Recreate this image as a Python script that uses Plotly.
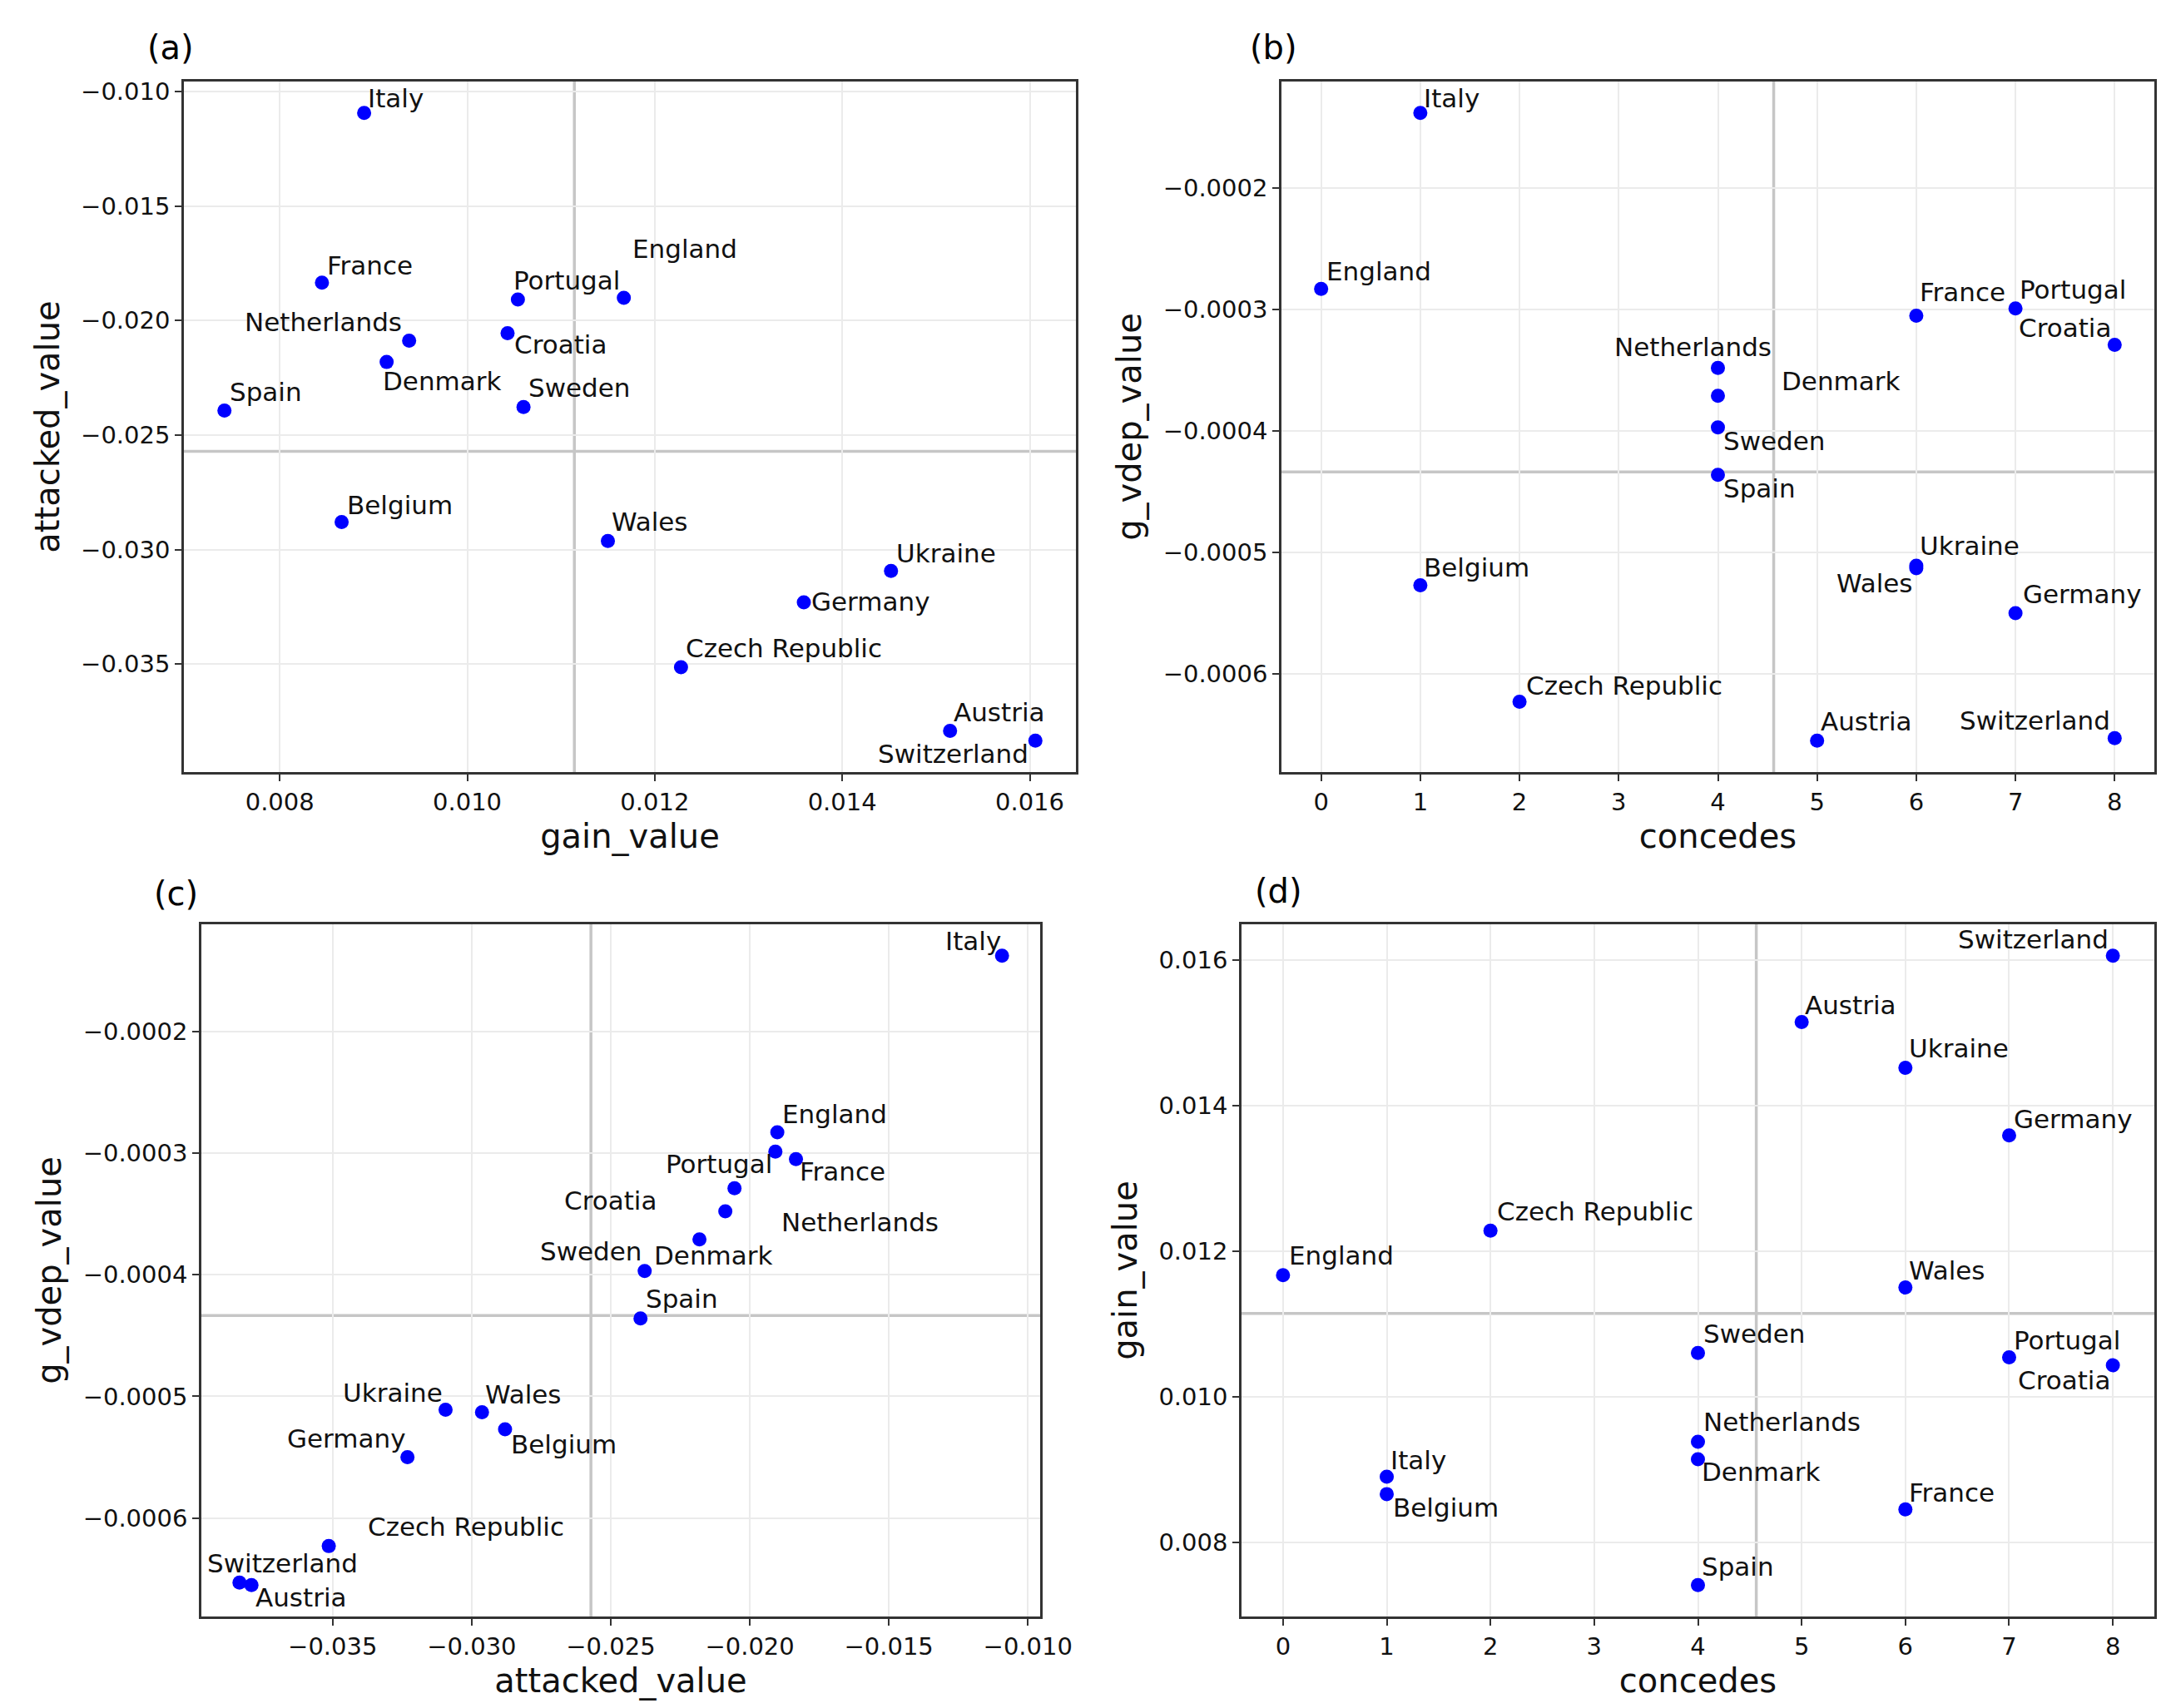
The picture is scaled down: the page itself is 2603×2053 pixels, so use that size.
import numpy as np
import plotly.graph_objects as go

# ---------------- data ----------------
teams = ["Italy", "France", "Netherlands", "Denmark", "Spain", "Portugal", "England",
         "Croatia", "Sweden", "Belgium", "Wales", "Ukraine", "Germany",
         "Czech Republic", "Austria", "Switzerland"]
gain_value = [0.00890, 0.00845, 0.00938, 0.00914, 0.00741, 0.01054, 0.01167,
              0.01043, 0.01060, 0.00866, 0.01150, 0.01452, 0.01359,
              0.01228, 0.01515, 0.01606]
attacked_value = [-0.01093, -0.01834, -0.02088, -0.02181, -0.02393, -0.01908, -0.01901,
                  -0.02055, -0.02378, -0.02880, -0.02963, -0.03094, -0.03231,
                  -0.03514, -0.03792, -0.03835]
g_vdep_value = [-0.000138, -0.000305, -0.000348, -0.000371, -0.000436, -0.000299, -0.000283,
                -0.000329, -0.000397, -0.000527, -0.000513, -0.000511, -0.000550,
                -0.000623, -0.000655, -0.000653]
concedes = [1, 6, 4, 4, 4, 7, 0, 8, 4, 1, 6, 6, 7, 2, 5, 8]
panel_tags = ["(a)", "(b)", "(c)", "(d)"]

# ---------------- label offsets (px, dx right, dy down) ----------------
off_a = {"Italy": (2, -18), "France": (4, -21), "Netherlands": (-200, -23), "Denmark": (-7, 23),
         "Spain": (4, -22), "Portugal": (-7, -23), "England": (8, -59), "Croatia": (6, 14),
         "Sweden": (4, -23), "Belgium": (4, -20), "Wales": (2, -23), "Ukraine": (4, -21),
         "Germany": (7, -1), "Czech Republic": (4, -23), "Austria": (2, -22),
         "Switzerland": (-191, 16)}
off_b = {"Italy": (2, -18), "England": (4, -21), "France": (2, -28), "Portugal": (3, -23),
         "Croatia": (-117, -20), "Netherlands": (-127, -25), "Denmark": (74, -18),
         "Sweden": (4, 16), "Spain": (4, 16), "Ukraine": (2, -24), "Wales": (-98, 18),
         "Belgium": (2, -21), "Germany": (7, -23), "Czech Republic": (6, -20),
         "Austria": (2, -23), "Switzerland": (-188, -21)}
off_c = {"Italy": (-70, -18), "England": (4, -22), "Portugal": (-134, 15), "France": (2, 15),
         "Croatia": (-207, 15), "Netherlands": (65, 13), "Denmark": (-57, 19),
         "Sweden": (-128, -24), "Spain": (4, -24), "Ukraine": (-125, -21), "Wales": (2, -21),
         "Belgium": (5, 18), "Germany": (-147, -23), "Czech Republic": (45, -23),
         "Switzerland": (-41, -23), "Austria": (3, 15)}
off_d = {"Switzerland": (-188, -20), "Austria": (2, -20), "Ukraine": (2, -23),
         "Germany": (4, -20), "Czech Republic": (6, -23), "England": (5, -24), "Wales": (2, -21),
         "Sweden": (4, -23), "Portugal": (4, -20), "Croatia": (-116, 18),
         "Netherlands": (4, -24), "Denmark": (2, 15), "Italy": (2, -20), "Belgium": (5, 16),
         "France": (2, -20), "Spain": (2, -22)}

W, H = 2603, 2053
FONT = "DejaVu Sans"
TEXT = "#111111"

def dom_x(l, r):
    return [l / W, r / W]

def dom_y(t, b):
    return [1 - b / H, 1 - t / H]

panels = [
    dict(x=gain_value, y=attacked_value, xt="gain_value", yt="attacked_value",
         dx=dom_x(213, 1285), dy=dom_y(90, 920), off=off_a,
         xtick=dict(tick0=0.008, dtick=0.002, tickformat=".3f"),
         ytick=dict(tick0=-0.035, dtick=0.005, tickformat=".3f"),
         tag=(167, 49)),
    dict(x=concedes, y=g_vdep_value, xt="concedes", yt="g_vdep_value",
         dx=dom_x(1532, 2581), dy=dom_y(90, 920), off=off_b,
         xtick=dict(tick0=0, dtick=1, tickformat="d"),
         ytick=dict(tick0=-0.0006, dtick=0.0001, tickformat=".4f"),
         tag=(1492, 49)),
    dict(x=attacked_value, y=g_vdep_value, xt="attacked_value", yt="g_vdep_value",
         dx=dom_x(234, 1242), dy=dom_y(1103, 1935), off=off_c,
         xtick=dict(tick0=-0.035, dtick=0.005, tickformat=".3f"),
         ytick=dict(tick0=-0.0006, dtick=0.0001, tickformat=".4f"),
         tag=(175, 1066)),
    dict(x=concedes, y=gain_value, xt="concedes", yt="gain_value",
         dx=dom_x(1484, 2581), dy=dom_y(1103, 1935), off=off_d,
         xtick=dict(tick0=0, dtick=1, tickformat="d"),
         ytick=dict(tick0=0.008, dtick=0.002, tickformat=".3f"),
         tag=(1498, 1063)),
]

def padded(v):
    lo, hi = min(v), max(v)
    p = (hi - lo) * 0.05
    return [lo - p, hi + p]

fig = go.Figure()
annotations = []
shapes = []
layout = dict(width=W, height=H, margin=dict(l=0, r=0, t=0, b=0),
              paper_bgcolor="white", plot_bgcolor="white", showlegend=False,
              font=dict(family=FONT, color=TEXT))

axis_common = dict(showgrid=True, gridcolor="#ebebeb", gridwidth=2, zeroline=False,
                   showline=True, linecolor="#333333", linewidth=2.5, mirror=True,
                   ticks="outside", ticklen=8, tickwidth=2, tickcolor="#333333",
                   tickfont=dict(family=FONT, size=29, color=TEXT),
                   automargin=False, tickmode="linear")

for i, p in enumerate(panels):
    n = i + 1
    xa = "x" if n == 1 else f"x{n}"
    ya = "y" if n == 1 else f"y{n}"
    fig.add_trace(go.Scatter(x=p["x"], y=p["y"], mode="markers", xaxis=xa, yaxis=ya,
                             marker=dict(color="#0000ff", size=17, line=dict(width=0)),
                             text=teams, hoverinfo="text"))
    layout[f"xaxis{'' if n == 1 else n}"] = dict(
        axis_common, domain=p["dx"], anchor=ya, range=padded(p["x"]), **p["xtick"],
        title=dict(text=p["xt"], font=dict(family=FONT, size=40, color=TEXT), standoff=12))
    layout[f"yaxis{'' if n == 1 else n}"] = dict(
        axis_common, domain=p["dy"], anchor=xa, range=padded(p["y"]), **p["ytick"],
        title=dict(text=p["yt"], font=dict(family=FONT, size=40, color=TEXT), standoff=14))
    # mean lines
    mx = float(np.mean(p["x"]))
    my = float(np.mean(p["y"]))
    yr = padded(p["y"])
    xr = padded(p["x"])
    shapes.append(dict(type="line", xref=xa, yref=ya, x0=mx, x1=mx, y0=yr[0], y1=yr[1],
                       line=dict(color="#c6c6c6", width=3.5), layer="below"))
    shapes.append(dict(type="line", xref=xa, yref=ya, x0=xr[0], x1=xr[1], y0=my, y1=my,
                       line=dict(color="#c6c6c6", width=3.5), layer="below"))
    for t, xv, yv in zip(teams, p["x"], p["y"]):
        dxp, dyp = p["off"][t]
        annotations.append(dict(x=xv, y=yv, xref=xa, yref=ya, text=t, showarrow=False,
                                xanchor="left", yanchor="middle", xshift=dxp, yshift=-dyp,
                                font=dict(family=FONT, size=31, color=TEXT)))
    tx, ty = p["tag"]
    annotations.append(dict(x=tx / W, y=1 - ty / H, xref="paper", yref="paper",
                            text=panel_tags[i], showarrow=False, xanchor="left",
                            yanchor="middle", font=dict(family=FONT, size=40, color="#000000")))

layout["annotations"] = annotations
layout["shapes"] = shapes
fig.update_layout(**layout)
fig.write_html("out.html")
